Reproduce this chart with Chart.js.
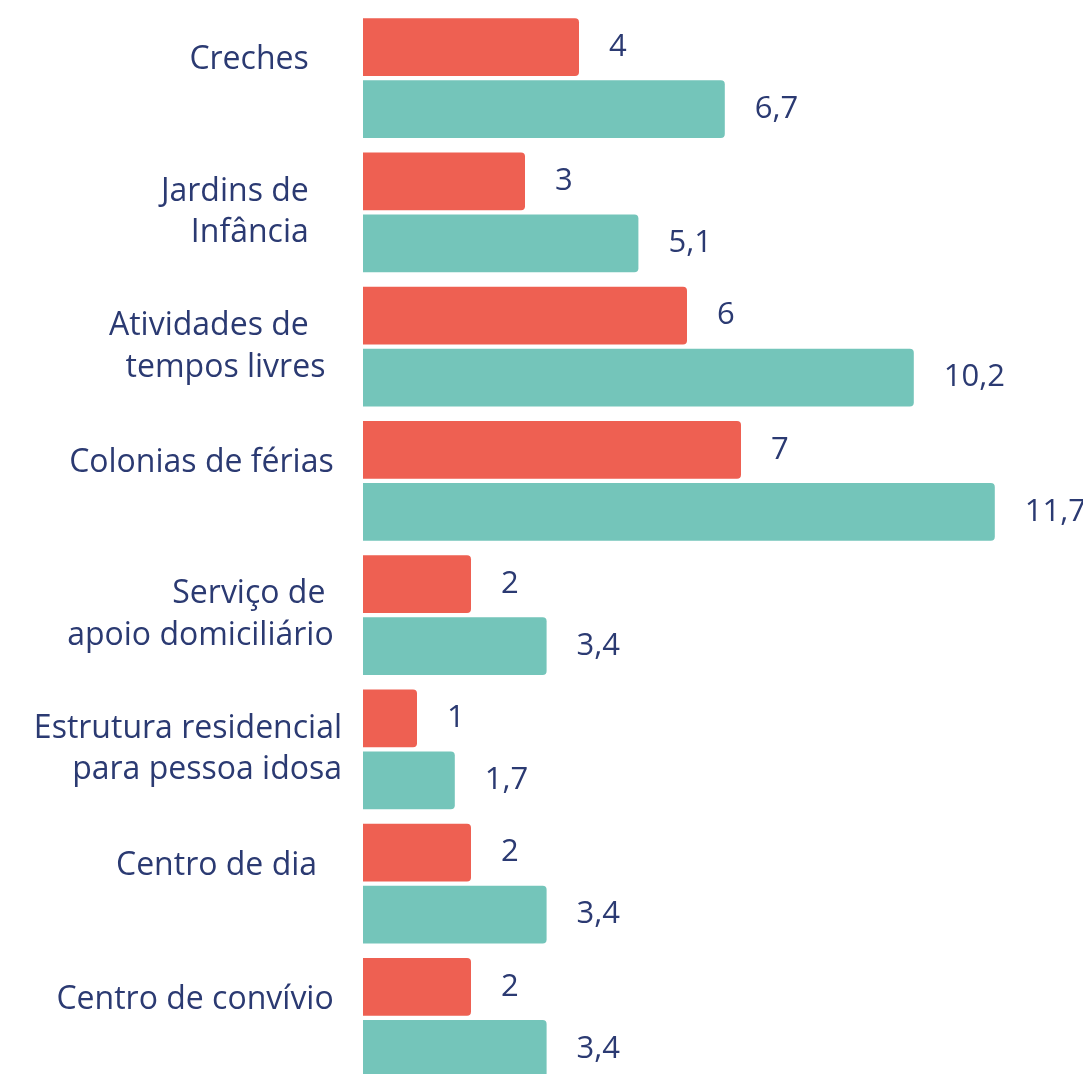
<!DOCTYPE html>
<html>
<head>
<meta charset="utf-8">
<script src="https://cdn.jsdelivr.net/npm/chart.js@4.4.1/dist/chart.umd.min.js"></script>
<style>
  html, body { margin: 0; padding: 0; background: #ffffff; overflow: hidden; }
  #wrap { position: relative; width: 1083px; height: 1092px; }
</style>
</head>
<body>
<div id="wrap"><canvas id="c"></canvas></div>
<script>
// ---- data ----
const categories = [
  ['Creches    ', ''],
  ['Jardins de    ', 'Infância    '],
  ['Atividades de    ', 'tempos livres  '],
  ['Colonias de férias ', ''],
  ['Serviço de  ', 'apoio domiciliário '],
  ['Estrutura residencial', 'para pessoa idosa'],
  ['Centro de dia   ', ''],
  ['Centro de convívio ', '']
];
const seriesRed = [4, 3, 6, 7, 2, 1, 2, 2];
const seriesGreen = [6.7, 5.1, 10.2, 11.7, 3.4, 1.7, 3.4, 3.4];

const NAVY = '#2B3A72';
const FONT = '"Open Sans", "DejaVu Sans", sans-serif';

const valueLabels = {
  id: 'valueLabels',
  afterDatasetsDraw(chart) {
    const ctx = chart.ctx;
    ctx.save();
    ctx.fillStyle = NAVY;
    ctx.font = '400 31px ' + FONT;
    ctx.textAlign = 'left';
    ctx.textBaseline = 'middle';
    chart.data.datasets.forEach((ds, di) => {
      const meta = chart.getDatasetMeta(di);
      meta.data.forEach((bar, i) => {
        const txt = String(ds.data[i]).replace('.', ',');
        ctx.fillText(txt, bar.x + 30, bar.y);
      });
    });
    ctx.restore();
  }
};

new Chart(document.getElementById('c'), {
  type: 'bar',
  data: {
    labels: categories,
    datasets: [
      { data: seriesRed, backgroundColor: '#EE6052', borderRadius: 4, borderSkipped: 'start' },
      { data: seriesGreen, backgroundColor: '#74C5BA', borderRadius: 4, borderSkipped: 'start' }
    ]
  },
  options: {
    indexAxis: 'y',
    responsive: true,
    maintainAspectRatio: false,
    animation: false,
    layout: { padding: { top: 11, bottom: 7, left: 0, right: 18 } },
    categoryPercentage: 0.923,
    barPercentage: 0.935,
    plugins: { legend: { display: false }, tooltip: { enabled: false } },
    scales: {
      x: { display: false, min: 0, max: 13 },
      y: {
        grid: { display: false, drawTicks: false },
        border: { display: false },
        afterFit(scale) {
          scale.width = 363;
          scale.paddingTop = 0;
          scale.paddingBottom = 0;
        },
        ticks: {
          padding: 21,
          color: NAVY,
          font: (ctx) => {
            const lbl = categories[ctx.index] || [];
            const single = lbl[1] === '';
            return { family: FONT, size: 32, weight: '500', lineHeight: single ? 1.13 : 1.31 };
          }
        }
      }
    }
  },
  plugins: [valueLabels]
});
</script>
</body>
</html>
